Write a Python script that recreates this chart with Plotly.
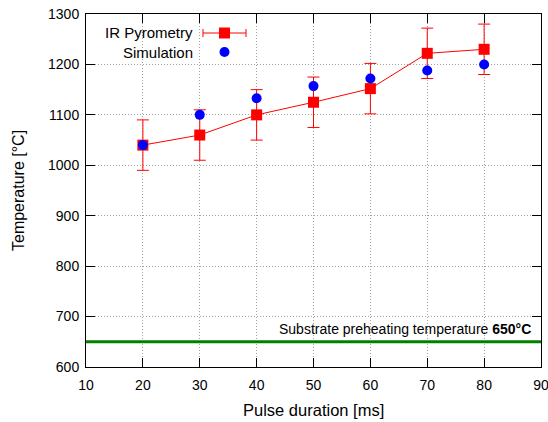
import plotly.graph_objects as go

pulse = [20, 30, 40, 50, 60, 70, 80]
ir_temp = [1040, 1060, 1100, 1125, 1152, 1222, 1230]
ir_err = [50, 50, 50, 50, 50, 50, 50]
sim_temp = [1040, 1100, 1133, 1157, 1172, 1188, 1200]
preheat = 650
x_ticks = [10, 20, 30, 40, 50, 60, 70, 80, 90]
y_ticks = [600, 700, 800, 900, 1000, 1100, 1200, 1300]

W, H = 548, 422
L, R, T, B = 86, 541, 14, 367
def px(x):
    return (x - L) / (R - L)
def py(y):
    return (B - y) / (B - T)

FONT = "Liberation Sans, Arial, sans-serif"

fig = go.Figure()
fig.add_trace(go.Scatter(
    x=[x_ticks[0], x_ticks[-1]], y=[preheat, preheat], mode="lines",
    line=dict(color="#008000", width=3), showlegend=False, hoverinfo="skip"))
fig.add_trace(go.Scatter(
    x=pulse, y=ir_temp, mode="lines+markers", name="IR Pyrometry",
    line=dict(color="#ff0000", width=1),
    marker=dict(symbol="square", size=11, color="#ff0000"),
    error_y=dict(type="data", array=ir_err, color="#ff0000", thickness=1, width=6),
    showlegend=False))
fig.add_trace(go.Scatter(
    x=pulse, y=sim_temp, mode="markers", name="Simulation",
    marker=dict(symbol="circle", size=10, color="#0000ff"),
    showlegend=False))

shapes = []
ly1, ly2 = 33, 52
shapes.append(dict(type="line", xref="paper", yref="paper", x0=px(203), x1=px(246), y0=py(ly1), y1=py(ly1), line=dict(color="#ff0000", width=1)))
for cx in (203, 246):
    shapes.append(dict(type="line", xref="paper", yref="paper", x0=px(cx), x1=px(cx), y0=py(ly1 - 4), y1=py(ly1 + 4), line=dict(color="#ff0000", width=1)))
shapes.append(dict(type="rect", xref="paper", yref="paper", x0=px(219), x1=px(230), y0=py(ly1 + 5.5), y1=py(ly1 - 5.5), fillcolor="#ff0000", line=dict(width=0)))
shapes.append(dict(type="circle", xref="paper", yref="paper", x0=px(219.5), x1=px(229.5), y0=py(ly2 + 5), y1=py(ly2 - 5), fillcolor="#0000ff", line=dict(width=0)))
fig.update_layout(shapes=shapes)

def txt(s, x, y, size, xanchor="center", angle=0):
    return dict(text=s, xref="paper", yref="paper", x=px(x), y=py(y), xanchor=xanchor,
                yanchor="middle", showarrow=False, textangle=angle,
                font=dict(size=size, color="black", family=FONT))

ann = [
    txt("IR Pyrometry", 195, ly1, 15, "right"),
    txt("Simulation", 195, ly2, 15, "right"),
    txt("Substrate preheating temperature <b>650°C</b>", 533, 329, 14, "right"),
    txt("Pulse duration [ms]", 313.5, 410, 16.5),
    txt("Temperature [°C]", 18, 191, 16, angle=-90),
]
fig.update_layout(annotations=ann)

axis_common = dict(showline=True, linecolor="black", linewidth=1, mirror="ticks",
                   ticks="inside", ticklen=9, tickwidth=1, tickcolor="black",
                   showgrid=True, gridcolor="#a0a0a0", griddash="1px,2px", gridwidth=1,
                   zeroline=False, ticklabeloverflow="allow", automargin=False,
                   tickfont=dict(size=14, family=FONT, color="black"))
fig.update_xaxes(range=[x_ticks[0], x_ticks[-1]], tickvals=x_ticks, ticklabelstandoff=5, **axis_common)
fig.update_yaxes(range=[y_ticks[0], y_ticks[-1]], tickvals=y_ticks, ticklabelstandoff=3, **axis_common)
fig.update_layout(width=W, height=H, margin=dict(l=L, r=W - R, t=T, b=H - B, autoexpand=False),
                  plot_bgcolor="white", paper_bgcolor="white", showlegend=False,
                  font=dict(family=FONT, color="black"))
fig.write_html("out.html")
